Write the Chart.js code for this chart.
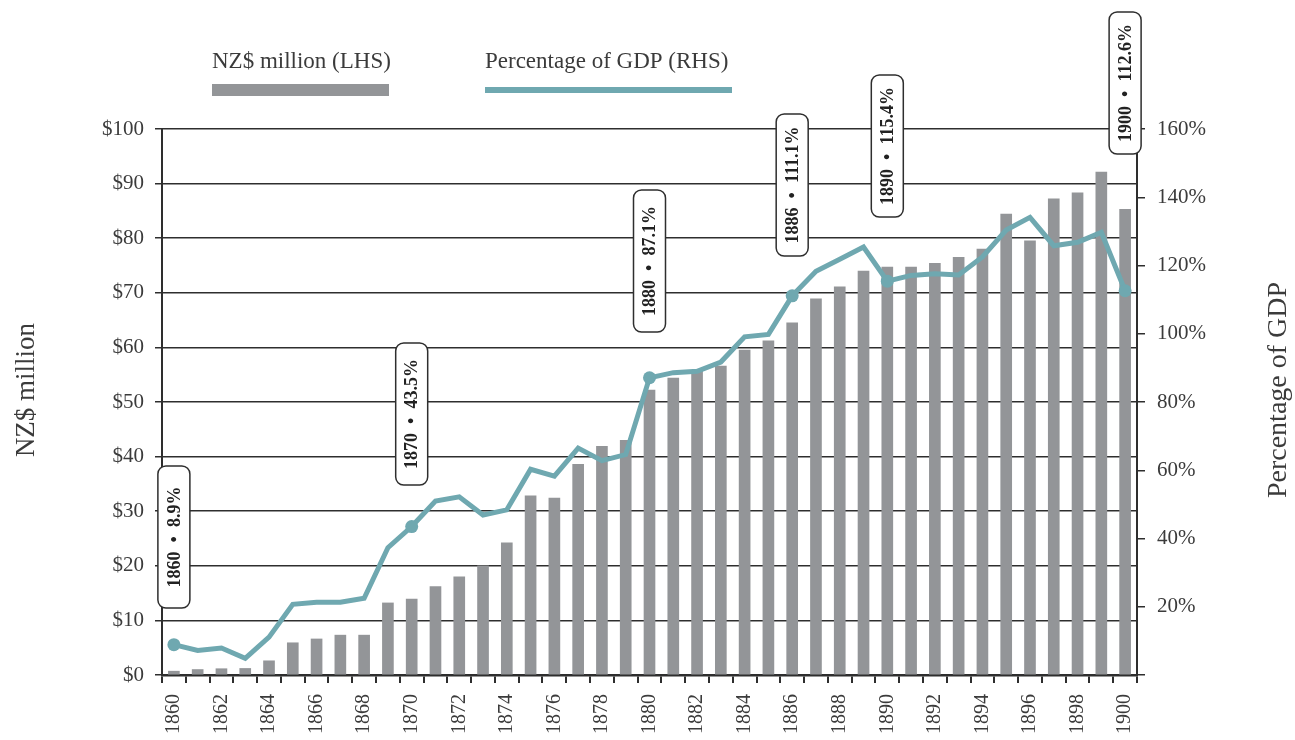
<!DOCTYPE html>
<html>
<head>
<meta charset="utf-8">
<script src="https://cdn.jsdelivr.net/npm/chart.js"></script>
<style>
  body { margin: 0; background: #fff; }
  canvas { display: block; }
</style>
</head>
<body>
<canvas id="debtChart" width="1295" height="740"></canvas>
<script>
// NZ public debt, 1860-1900
const years = [1860, 1861, 1862, 1863, 1864, 1865, 1866, 1867, 1868, 1869,
  1870, 1871, 1872, 1873, 1874, 1875, 1876, 1877, 1878, 1879,
  1880, 1881, 1882, 1883, 1884, 1885, 1886, 1887, 1888, 1889,
  1890, 1891, 1892, 1893, 1894, 1895, 1896, 1897, 1898, 1899, 1900];

// NZ$ million (LHS)
const debtMillions = [0.7, 1.0, 1.15, 1.2, 2.6, 5.9, 6.6, 7.3, 7.3, 13.2,
  13.9, 16.2, 18.0, 20.0, 24.2, 32.8, 32.4, 38.6, 41.9, 43.0,
  52.2, 54.4, 55.6, 56.6, 59.5, 61.2, 64.5, 68.9, 71.1, 74.0,
  74.7, 74.7, 75.4, 76.5, 78.0, 84.4, 79.5, 87.2, 88.3, 92.1, 85.3];

// Percentage of GDP (RHS)
const debtPctGdp = [8.9, 7.2, 7.9, 4.9, 11.1, 20.7, 21.3, 21.3, 22.5, 37.3,
  43.5, 51.0, 52.2, 46.9, 48.4, 60.3, 58.3, 66.5, 62.8, 64.6,
  87.1, 88.6, 89.0, 91.7, 99.1, 99.8, 111.1, 118.3, 121.8, 125.4,
  115.4, 117.1, 117.6, 117.2, 122.5, 130.4, 134.1, 125.8, 126.8, 129.7, 112.6];

const highlightYears = [1860, 1870, 1880, 1886, 1890, 1900];

const seriesNames = ['NZ$ million (LHS)', 'Percentage of GDP (RHS)'];
const axisTitles = ['NZ$ million', 'Percentage of GDP'];

const barColor = '#939598';
const lineColor = '#6fa8b0';
const inkColor = '#2e2e2e';
const textColor = '#3b3b3b';
const serif = '"Liberation Serif", "Times New Roman", serif';

// where each callout box sits (top edge, px)
const calloutTop = { 1860: 466, 1870: 343, 1880: 190, 1886: 114, 1890: 75, 1900: 12 };

Chart.defaults.font.family = serif;
Chart.defaults.color = textColor;

function verticalText(ctx, text, x, y, font) {
  ctx.save();
  ctx.font = font;
  ctx.fillStyle = textColor;
  ctx.textAlign = 'center';
  ctx.textBaseline = 'middle';
  ctx.translate(x, y);
  ctx.rotate(-Math.PI / 2);
  ctx.fillText(text, 0, 0);
  ctx.restore();
}

const extras = {
  id: 'extras',
  afterDatasetsDraw(chart) {
    const ctx = chart.ctx;
    const xs = chart.scales.x;
    highlightYears.forEach(yr => {
      const idx = years.indexOf(yr);
      const cx = xs.getPixelForValue(idx);
      const top = calloutTop[yr];
      const w = 32, h = 142;
      ctx.save();
      ctx.beginPath();
      ctx.roundRect(cx - w / 2, top, w, h, 8);
      ctx.fillStyle = '#fff';
      ctx.fill();
      ctx.lineWidth = 1.5;
      ctx.strokeStyle = inkColor;
      ctx.stroke();
      ctx.translate(cx + 1, top + h / 2);
      ctx.rotate(-Math.PI / 2);
      ctx.font = 'bold 18px ' + serif;
      ctx.textAlign = 'center';
      ctx.textBaseline = 'middle';
      ctx.fillStyle = '#222';
      ctx.fillText(yr + '  \u2022  ' + debtPctGdp[idx].toFixed(1) + '%', 0, 0);
      ctx.restore();
    });
  },
  afterDraw(chart) {
    const ctx = chart.ctx;
    ctx.save();
    // legend
    ctx.font = '23px ' + serif;
    ctx.fillStyle = textColor;
    ctx.textBaseline = 'alphabetic';
    ctx.textAlign = 'left';
    ctx.fillText(seriesNames[0], 212, 68);
    ctx.fillText(seriesNames[1], 485, 68);
    ctx.fillStyle = barColor;
    ctx.fillRect(212, 84, 177, 12);
    ctx.fillStyle = lineColor;
    ctx.fillRect(485, 87, 247, 6);
    ctx.restore();
    // axis titles
    verticalText(ctx, axisTitles[0], 27, 390, '27px ' + serif);
    verticalText(ctx, axisTitles[1], 1279, 390, '28px ' + serif);
  }
};

const ctx = document.getElementById('debtChart').getContext('2d');

new Chart(ctx, {
  type: 'bar',
  data: {
    labels: years,
    datasets: [{
      type: 'line',
      label: seriesNames[1],
      data: debtPctGdp,
      yAxisID: 'yRight',
      borderColor: lineColor,
      backgroundColor: lineColor,
      borderWidth: 5,
      tension: 0,
      pointRadius: years.map(y => highlightYears.includes(y) ? 6.5 : 0),
      pointBorderWidth: 0,
      order: 0
    }, {
      label: seriesNames[0],
      data: debtMillions,
      yAxisID: 'yLeft',
      backgroundColor: barColor,
      barThickness: 11,
      order: 1
    }]
  },
  options: {
    responsive: false,
    animation: false,
    layout: { padding: { top: 129, left: 0, right: 0, bottom: 0 } },
    plugins: {
      legend: { display: false },
      tooltip: { enabled: false }
    },
    scales: {
      x: {
        offset: true,
        afterFit(scale) { scale.height = 65; },
        grid: {
          offset: true,
          drawOnChartArea: false,
          drawTicks: true,
          tickLength: 8,
          color: inkColor,
          lineWidth: 2
        },
        border: { display: true, color: inkColor, width: 2.5 },
        ticks: {
          autoSkip: false,
          minRotation: 90,
          maxRotation: 90,
          padding: 11,
          font: { size: 20 },
          callback(value, index) { return index % 2 === 0 ? String(years[index]) : ''; }
        }
      },
      yLeft: {
        position: 'left',
        min: 0,
        max: 100,
        afterFit(scale) { scale.width = 162; },
        grid: {
          color: inkColor,
          lineWidth: 1.5,
          drawTicks: true,
          tickLength: 7
        },
        border: { display: true, color: inkColor, width: 2 },
        ticks: {
          stepSize: 10,
          padding: 11,
          font: { size: 21 },
          callback: v => '$' + v
        }
      },
      yRight: {
        position: 'right',
        min: 0,
        max: 160,
        afterFit(scale) { scale.width = 158; },
        grid: {
          drawOnChartArea: false,
          drawTicks: true,
          tickLength: 8,
          color: inkColor,
          lineWidth: 1.5
        },
        border: { display: true, color: inkColor, width: 2 },
        ticks: {
          stepSize: 20,
          padding: 12,
          font: { size: 21 },
          callback: v => v === 0 ? '' : v + '%'
        }
      }
    }
  },
  plugins: [extras]
});
</script>
</body>
</html>
